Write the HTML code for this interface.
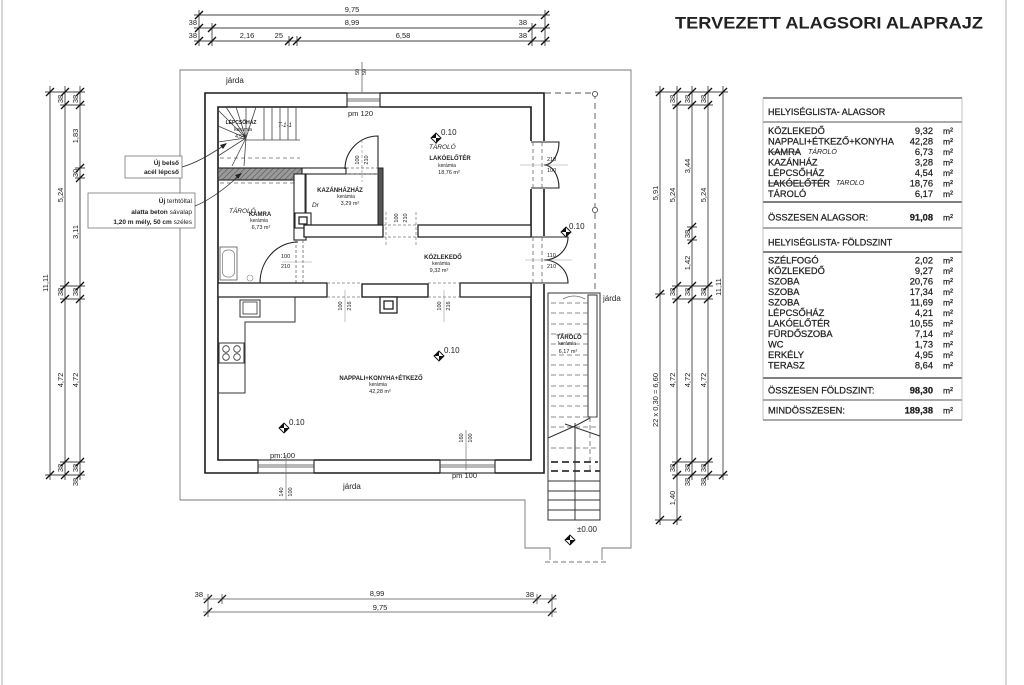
<!DOCTYPE html>
<html><head><meta charset="utf-8"><style>
html,body{margin:0;padding:0;background:#fff;}
svg{display:block}
text{font-family:"Liberation Sans",Arial,sans-serif;fill:#222}
.tb text{stroke:#222;stroke-width:0.25}
</style></head><body>
<svg width="1024" height="685" viewBox="0 0 1024 685" xmlns="http://www.w3.org/2000/svg">
<defs>
<pattern id="hatch" width="4" height="4" patternUnits="userSpaceOnUse" patternTransform="rotate(45)">
<rect width="4" height="4" fill="#9a9a9a"/>
<line x1="0" y1="0" x2="0" y2="4" stroke="#555" stroke-width="1.2"/>
</pattern>
</defs>
<rect width="1024" height="685" fill="#fff"/>
<line x1="2" y1="0" x2="2" y2="685" stroke="#c8c8c8" stroke-width="1.5"/>
<line x1="1006" y1="0" x2="1006" y2="685" stroke="#bdbdbd" stroke-width="1.2"/>

<text x="675" y="28.5" font-size="17" font-weight="bold" textLength="308" lengthAdjust="spacingAndGlyphs" fill="#111">TERVEZETT ALAGSORI ALAPRAJZ</text>

<!-- TOP DIMENSIONS -->
<g stroke="#444" stroke-width="0.9" fill="none">
<path d="M194 15 H550 M194 28 H550 M194 41 H550"/>
<path d="M199 10 V46 M212 23 V46 M289 36 V46 M297 36 V46 M532 23 V46 M545 10 V46"/>
</g>
<g stroke="#111" stroke-width="1.4" fill="none">
<path d="M195 19 L203 11 M541 19 L549 11
M195 32 L203 24 M208 32 L216 24 M528 32 L536 24 M541 32 L549 24
M195 45 L203 37 M208 45 L216 37 M285 45 L293 37 M293 45 L301 37 M528 45 L536 37 M541 45 L549 37"/>
</g>
<g font-size="7.5" fill="#222">
<text x="352" y="12" text-anchor="middle">9,75</text>
<text x="352" y="25" text-anchor="middle">8,99</text>
<text x="197" y="25" text-anchor="end">38</text>
<text x="527" y="25" text-anchor="end">38</text>
<text x="197" y="38" text-anchor="end">38</text>
<text x="247" y="38" text-anchor="middle">2,16</text>
<text x="283" y="38" text-anchor="end">25</text>
<text x="403" y="38" text-anchor="middle">6,58</text>
<text x="527" y="38" text-anchor="end">38</text>
</g>

<!-- BOTTOM DIMENSIONS -->
<g stroke="#555" stroke-width="0.8" fill="none">
<path d="M203 599 H557 M203 612 H557 M208 594 V617 M222 594 V604 M537 594 V604 M552 594 V617"/>
</g>
<g stroke="#222" stroke-width="1.3" fill="none">
<path d="M204 603 L212 595 M218 603 L226 595 M533 603 L541 595 M548 603 L556 595 M204 616 L212 608 M548 616 L556 608"/>
</g>
<g font-size="7.5" fill="#333">
<text x="203" y="597" text-anchor="end">38</text>
<text x="377" y="596" text-anchor="middle">8,99</text>
<text x="534" y="597" text-anchor="end">38</text>
<text x="380" y="610" text-anchor="middle">9,75</text>
</g>

<!-- LEFT DIMENSIONS -->
<g stroke="#444" stroke-width="0.9" fill="none">
<path d="M50 86 V480 M65 86 V480 M80 86 V480"/>
<path d="M45 92 H85 M60 105 H85 M75 168 H85 M75 178 H85 M60 286 H85 M60 299 H85 M60 462 H85 M45 475 H85"/>
</g>
<g stroke="#111" stroke-width="1.3" fill="none">
<path d="M46 96 L54 88 M46 479 L54 471
M61 96 L69 88 M61 109 L69 101 M61 290 L69 282 M61 303 L69 295 M61 466 L69 458 M61 479 L69 471
M76 96 L84 88 M76 109 L84 101 M76 172 L84 164 M76 182 L84 174 M76 290 L84 282 M76 303 L84 295 M76 466 L84 458 M76 479 L84 471"/>
</g>
<g font-size="7.5" fill="#222" text-anchor="middle">
<text transform="translate(48,283) rotate(-90)">11,11</text>
<text transform="translate(63,99) rotate(-90)">38</text>
<text transform="translate(63,195) rotate(-90)">5,24</text>
<text transform="translate(63,292) rotate(-90)">38</text>
<text transform="translate(63,380) rotate(-90)">4,72</text>
<text transform="translate(63,468) rotate(-90)">38</text>
<text transform="translate(78,99) rotate(-90)">38</text>
<text transform="translate(78,136) rotate(-90)">1,83</text>
<text transform="translate(78,173) rotate(-90)">30</text>
<text transform="translate(78,232) rotate(-90)">3,11</text>
<text transform="translate(78,292) rotate(-90)">38</text>
<text transform="translate(78,380) rotate(-90)">4,72</text>
<text transform="translate(78,468) rotate(-90)">38</text>
<text transform="translate(78,482) rotate(-90)">38</text>
</g>

<!-- RIGHT DIMENSIONS -->
<g stroke="#444" stroke-width="0.9" fill="none">
<path d="M660 86 V525 M677 86 V525 M692 86 V480 M708 86 V480 M723 86 V480"/>
<path d="M655 92 H728 M672 105 H713 M655 294 H665 M672 286 H713 M672 299 H713 M687 227 H697 M687 240 H697 M672 462 H713 M672 475 H728 M655 520 H682"/>
</g>
<g stroke="#111" stroke-width="1.3" fill="none">
<path d="M656 96 L664 88 M656 298 L664 290 M656 524 L664 516
M673 96 L681 88 M673 109 L681 101 M673 290 L681 282 M673 303 L681 295 M673 466 L681 458 M673 479 L681 471 M673 524 L681 516
M688 96 L696 88 M688 109 L696 101 M688 231 L696 223 M688 244 L696 236 M688 290 L696 282 M688 303 L696 295 M688 466 L696 458 M688 479 L696 471
M704 96 L712 88 M704 109 L712 101 M704 290 L712 282 M704 303 L712 295 M704 466 L712 458 M704 479 L712 471
M719 96 L727 88 M719 479 L727 471"/>
</g>
<g font-size="7.5" fill="#222" text-anchor="middle">
<text transform="translate(658,193) rotate(-90)">5,91</text>
<text transform="translate(658,400) rotate(-90)">22 x 0,30 = 6,60</text>
<text transform="translate(675,99) rotate(-90)">38</text>
<text transform="translate(675,195) rotate(-90)">5,24</text>
<text transform="translate(675,292) rotate(-90)">38</text>
<text transform="translate(675,380) rotate(-90)">4,72</text>
<text transform="translate(675,468) rotate(-90)">38</text>
<text transform="translate(675,498) rotate(-90)">1,40</text>
<text transform="translate(690,99) rotate(-90)">38</text>
<text transform="translate(690,166) rotate(-90)">3,44</text>
<text transform="translate(690,234) rotate(-90)">38</text>
<text transform="translate(690,263) rotate(-90)">1,42</text>
<text transform="translate(690,292) rotate(-90)">38</text>
<text transform="translate(690,380) rotate(-90)">4,72</text>
<text transform="translate(690,468) rotate(-90)">38</text>
<text transform="translate(690,482) rotate(-90)">38</text>
<text transform="translate(706,99) rotate(-90)">38</text>
<text transform="translate(706,195) rotate(-90)">5,24</text>
<text transform="translate(706,292) rotate(-90)">38</text>
<text transform="translate(706,380) rotate(-90)">4,72</text>
<text transform="translate(706,468) rotate(-90)">38</text>
<text transform="translate(706,482) rotate(-90)">38</text>
<text transform="translate(721,287) rotate(-90)">11,11</text>
</g>

<!-- SITE BOUNDARY -->
<g stroke="#777" stroke-width="0.9" fill="none">
<path d="M180 500 V70 H631 V548 H602 V560 M550 560 V548 H525 V500 H180"/>
<path d="M545 562 H606" stroke-dasharray="5 3"/>
<path d="M362 62 V93"/>
</g>
<g font-size="5.5" fill="#444">
<text transform="translate(359,75) rotate(-90)">50</text>
<text transform="translate(366,75) rotate(-90)">50</text>
</g>
<g font-size="8" fill="#222">
<text x="226" y="83">járda</text>
<text x="603" y="301">járda</text>
<text x="343" y="489">járda</text>
</g>

<!-- dashed line right of building -->
<g stroke="#555" stroke-width="0.9" fill="none">
<path d="M545 93 H595 M595 93 V293" stroke-dasharray="6 4"/>
<circle cx="595" cy="94" r="2.6" fill="#fff"/>
<circle cx="595" cy="210" r="2.6" fill="#fff"/>
</g>

<!-- EXTERIOR WALLS -->
<path d="M205 93 H544 V473 H205 Z M218 107 V460 H531 V107 Z" fill="#fff" fill-rule="evenodd" stroke="#1a1a1a" stroke-width="1.6"/>

<!-- top window -->
<rect x="347" y="92" width="33" height="16" fill="#fff"/>
<rect x="347" y="93" width="33" height="14" fill="none" stroke="#222" stroke-width="1.1"/>
<path d="M347 99 H380 M347 101 H380" stroke="#444" stroke-width="0.7"/>
<text x="348" y="116" font-size="7.5" fill="#333">pm 120</text>

<!-- bottom windows -->
<rect x="258" y="459" width="56" height="15" fill="#fff"/>
<rect x="258" y="460" width="56" height="13" fill="none" stroke="#222" stroke-width="1.1"/>
<path d="M258 465 H314 M258 467 H314" stroke="#444" stroke-width="0.7"/>
<rect x="440" y="459" width="55" height="15" fill="#fff"/>
<rect x="440" y="460" width="55" height="13" fill="none" stroke="#222" stroke-width="1.1"/>
<path d="M440 465 H495 M440 467 H495" stroke="#444" stroke-width="0.7"/>
<text x="270" y="458" font-size="7.5" fill="#555">pm:100</text>
<text x="452" y="478" font-size="7.5" fill="#555">pm 100</text>
<path d="M286 455 V500 M466 430 V470" stroke="#777" stroke-width="0.7"/>
<g font-size="5.5" fill="#333" text-anchor="middle">
<text transform="translate(283,492) rotate(-90)">140</text>
<text transform="translate(292,492) rotate(-90)">100</text>
<text transform="translate(463,438) rotate(-90)">160</text>
<text transform="translate(472,438) rotate(-90)">100</text>
</g>

<!-- east doors -->
<rect x="530" y="141" width="15" height="48" fill="#fff"/>
<rect x="530" y="236" width="15" height="48" fill="#fff"/>
<g stroke="#222" stroke-width="1.1" fill="none">
<path d="M531 142 H544 M531 188 H544 M531 237 H544 M531 283 H544"/>
<path d="M544 142 H559 A15 23 0 0 1 544 165 M544 188 H559 A15 23 0 0 0 544 165"/>
<path d="M544 237 H568 A24 23 0 0 1 544 260 M544 283 H568 A24 23 0 0 0 544 260"/>
</g>
<g stroke="#666" stroke-width="0.8" fill="none" stroke-dasharray="4 3">
<path d="M533 142 V188 M542 142 V188 M533 237 V283 M542 237 V283"/>
</g>
<path d="M520 165 H568 M525 260 H572" stroke="#999" stroke-width="0.6"/>
<g font-size="5.5" fill="#333">
<text x="547" y="161">210</text><text x="547" y="172">100</text>
<text x="547" y="257">110</text><text x="547" y="268">210</text>
</g>

<!-- INTERIOR WALLS -->
<rect x="218" y="168" width="84" height="12" fill="url(#hatch)" stroke="#222" stroke-width="1.1"/>
<path d="M220 158 H300 M220 183 H294" stroke="#666" stroke-width="0.8" stroke-dasharray="4 3"/>
<rect x="302" y="168" width="44" height="6" fill="#fff" stroke="#222" stroke-width="1.1"/>
<rect x="378" y="168" width="5" height="58" fill="#555" stroke="#222" stroke-width="1"/>
<rect x="294" y="174" width="12" height="66" fill="#fff" stroke="#222" stroke-width="1.1"/>
<rect x="305" y="174" width="73" height="51" fill="none" stroke="#222" stroke-width="0.9"/>
<!-- kazanhaz door -->
<path d="M345 169 A33 33 0 0 1 378 136 V169" fill="none" stroke="#222" stroke-width="1.1"/>
<path d="M362 140 V182" stroke="#888" stroke-width="0.6" stroke-dasharray="3 2"/>
<path d="M346 168 H378 M346 174 H378" stroke="#666" stroke-width="0.7" stroke-dasharray="3 2"/>
<g font-size="5.5" fill="#333" text-anchor="middle">
<text transform="translate(359,160) rotate(-90)">100</text>
<text transform="translate(368,160) rotate(-90)">210</text>
</g>
<!-- chimney kamra -->
<rect x="295" y="213" width="16" height="15" fill="#fff" stroke="#222" stroke-width="1.1"/>
<rect x="299" y="217" width="8" height="7" fill="none" stroke="#222" stroke-width="1.3"/>

<!-- kozlekedo top wall -->
<rect x="304" y="225" width="79" height="12" fill="#fff" stroke="#222" stroke-width="1.3"/>
<rect x="418" y="225" width="113" height="12" fill="#fff" stroke="#222" stroke-width="1.3"/>
<path d="M383 225 H418 M383 237 H418 M386 212 V246 M416 212 V246" stroke="#777" stroke-width="0.7" stroke-dasharray="3 2"/>
<g font-size="5.5" fill="#333" text-anchor="middle">
<text transform="translate(398,218) rotate(-90)">100</text>
<text transform="translate(407,218) rotate(-90)">210</text>
</g>

<!-- kamra door -->
<path d="M296 240 V283 M303 240 V283" stroke="#666" stroke-width="0.8" stroke-dasharray="3 2"/>
<path d="M260 283 A38 41 0 0 1 298 242" fill="none" stroke="#222" stroke-width="1.1"/>
<path d="M282 262 H312" stroke="#999" stroke-width="0.6"/>
<g font-size="5.5" fill="#333"><text x="281" y="258">100</text><text x="281" y="268">210</text></g>

<!-- kozlekedo bottom wall -->
<rect x="218" y="283" width="109" height="14" fill="#fff" stroke="#222" stroke-width="1.3"/>
<rect x="362" y="284" width="66" height="13" fill="#fff" stroke="#222" stroke-width="1.4"/>
<rect x="460" y="283" width="71" height="14" fill="#fff" stroke="#222" stroke-width="1.3"/>
<path d="M327 283 H362 M327 297 H362 M428 283 H460 M428 297 H460" stroke="#777" stroke-width="0.7" stroke-dasharray="3 2"/>
<path d="M345 290 V322 M444 290 V322" stroke="#999" stroke-width="0.6"/>
<g font-size="5.5" fill="#333" text-anchor="middle">
<text transform="translate(342,306) rotate(-90)">100</text>
<text transform="translate(351,306) rotate(-90)">216</text>
<text transform="translate(441,306) rotate(-90)">100</text>
<text transform="translate(450,306) rotate(-90)">216</text>
</g>
<rect x="380" y="297" width="17" height="16" fill="#fff" stroke="#222" stroke-width="1.3"/>
<rect x="384" y="301" width="9" height="8" fill="none" stroke="#222" stroke-width="1.3"/>

<!-- kitchen -->
<path d="M218 297 H295 V322 H245 V393 H218" fill="none" stroke="#333" stroke-width="1"/>
<rect x="240" y="300" width="20" height="17" fill="#fff" stroke="#333" stroke-width="1"/>
<rect x="243" y="302" width="14" height="12" fill="none" stroke="#333" stroke-width="0.8"/>
<rect x="219" y="343" width="25" height="20" fill="#fff" stroke="#333" stroke-width="1"/>
<g fill="none" stroke="#333" stroke-width="0.8">
<circle cx="226" cy="349" r="3.3"/><circle cx="237" cy="349" r="3.3"/>
<circle cx="226" cy="357" r="3.3"/><circle cx="237" cy="357" r="3.3"/>
</g>

<!-- kamra bathtub -->
<rect x="220" y="247" width="17" height="33" fill="#fff" stroke="#555" stroke-width="0.8"/>
<rect x="222.5" y="250" width="12" height="27" rx="5" fill="none" stroke="#777" stroke-width="0.7"/>
<circle cx="250" cy="278" r="3" fill="none" stroke="#888" stroke-width="0.6"/>

<!-- lepcsohaz stairs -->
<g stroke="#444" stroke-width="0.8" fill="none">
<path d="M246 138 L218 110 M246 138 L226 107 M246 138 L236 107 M246 138 L246 107 M246 138 L256 107
M246 138 L218 126 M246 138 L218 142 M246 138 L218 156 M246 138 L232 166 M246 138 L244 166"/>
<path d="M264 107 V140 M272 107 V140 M280 107 V140 M288 107 V140 M296 107 V140"/>
<path d="M246 140 H300"/>
</g>
<g font-size="5" fill="#333" text-anchor="middle">
<text x="241" y="124" font-weight="bold">LÉPCSŐHÁZ</text>
<text x="243" y="131">kerámia</text>
<text x="240" y="138">4,54</text>
</g>
<text x="278" y="127" font-size="6" fill="#777" font-style="italic">T-1-1</text>

<!-- annotations -->
<rect x="125" y="156" width="57" height="22" fill="#fff" stroke="#777" stroke-width="0.8"/>
<g font-size="6.5" font-weight="bold" text-anchor="end">
<text x="179" y="165">Új belső</text>
<text x="179" y="174">acél lépcső</text>
</g>
<rect x="88" y="193" width="107" height="35" fill="#fff" stroke="#777" stroke-width="0.8"/>
<g font-size="6.5" text-anchor="end">
<text x="192" y="203"><tspan font-weight="bold">Új</tspan> terhtöltal</text>
<text x="192" y="214"><tspan font-weight="bold">alatta beton</tspan> sávalap</text>
<text x="192" y="224"><tspan font-weight="bold">1,20 m mély, 50 cm</tspan> széles</text>
</g>
<g stroke="#333" stroke-width="0.8" fill="none">
<path d="M182 167 Q200 162 226 144"/>
<path d="M195 206 Q215 198 241 174"/>
</g>
<path d="M227 143 L220 145 L223 149 Z M242 173 L235 175 L238 179 Z" fill="#222"/>

<!-- right stair (TÁROLÓ) -->
<g stroke="#333" stroke-width="1" fill="none">
<rect x="548" y="293" width="52" height="227"/>
<rect x="588" y="295" width="9" height="122"/>
<path d="M575 423 V520"/>
<path d="M548 481 H600 M548 491 H600 M548 500 H600 M548 510 H600"/>
<path d="M548 438 L575 426 L590 418 M565 424 L600 436"/>
</g>
<g stroke="#666" stroke-width="0.8" fill="none" stroke-dasharray="5 3">
<path d="M551 303 H588 M551 313 H588 M551 324 H588 M551 334 H588 M551 344 H588 M551 355 H588 M551 365 H588 M551 375 H588 M551 386 H588 M551 396 H588 M551 406 H588 M551 417 H598 M551 427 H598 M551 448 H598 M590 417 V472"/>
</g>
<path d="M551 462 H598 M551 471 H600" stroke="#333" stroke-width="1.8" stroke-dasharray="7 4" fill="none"/>
<path d="M563 299 Q574 293 585 299" stroke="#666" stroke-width="0.8" fill="none"/>

<!-- ROOM LABELS -->
<g text-anchor="middle" fill="#222">
<text x="450" y="160" font-size="6" font-weight="bold">LAKÓELŐTÉR</text>
<text x="447" y="167" font-size="5">kerámia</text>
<text x="449" y="174" font-size="5.5">18,76 m²</text>
<text x="340" y="192" font-size="6" font-weight="bold">KAZÁNHÁZHÁZ</text>
<text x="346" y="198" font-size="5">kerámia</text>
<text x="350" y="205" font-size="5.5">3,29 m²</text>
<text x="260" y="216" font-size="6" font-weight="bold">KAMRA</text>
<text x="259" y="222" font-size="5">kerámia</text>
<text x="261" y="229" font-size="5.5">6,73 m²</text>
<text x="443" y="259" font-size="6" font-weight="bold">KÖZLEKEDŐ</text>
<text x="441" y="265" font-size="5">kerámia</text>
<text x="439" y="272" font-size="5.5">9,32 m²</text>
<text x="381" y="380" font-size="6" font-weight="bold">NAPPALI+KONYHA+ÉTKEZŐ</text>
<text x="378" y="386" font-size="5">kerámia</text>
<text x="380" y="393" font-size="5.5">42,28 m²</text>
<text x="569" y="339" font-size="6" font-weight="bold">TÁROLÓ</text>
<text x="567" y="345" font-size="5">kerámia</text>
<text x="568" y="353" font-size="5.5">6,17 m²</text>
</g>
<g fill="#888" font-style="italic" font-size="6.5">
<text x="429" y="149">TÁROLÓ</text>
<text x="312" y="207">Dr</text>
<text x="229" y="213">TÁROLÓ</text>
</g>

<!-- level markers -->
<g>
<g transform="translate(436,138) rotate(45)"><rect x="-3.5" y="-3.5" width="7" height="7" fill="#fff" stroke="#111"/><path d="M-3.5 -3.5 L3.5 3.5 L3.5 -3.5 L-3.5 3.5 Z" fill="#111"/></g>
<text x="441" y="135" font-size="8">0.10</text>
<g transform="translate(439,356) rotate(45)"><rect x="-3.5" y="-3.5" width="7" height="7" fill="#fff" stroke="#111"/><path d="M-3.5 -3.5 L3.5 3.5 L3.5 -3.5 L-3.5 3.5 Z" fill="#111"/></g>
<text x="444" y="353" font-size="8">0.10</text>
<g transform="translate(284,428) rotate(45)"><rect x="-3.5" y="-3.5" width="7" height="7" fill="#fff" stroke="#111"/><path d="M-3.5 -3.5 L3.5 3.5 L3.5 -3.5 L-3.5 3.5 Z" fill="#111"/></g>
<text x="289" y="425" font-size="8">0.10</text>
<g transform="translate(566,232) rotate(45)"><rect x="-3.5" y="-3.5" width="7" height="7" fill="#fff" stroke="#111"/><path d="M-3.5 -3.5 L3.5 3.5 L3.5 -3.5 L-3.5 3.5 Z" fill="#111"/></g>
<text x="569" y="229" font-size="8">0.10</text>
<g transform="translate(570,540) rotate(45)"><rect x="-3.5" y="-3.5" width="7" height="7" fill="#fff" stroke="#111"/><path d="M-3.5 -3.5 L3.5 3.5 L3.5 -3.5 L-3.5 3.5 Z" fill="#111"/></g>
<text x="577" y="532" font-size="8">±0.00</text>
</g>

<!-- TABLE -->
<g stroke="#555" fill="none">
<path d="M763 98 H962" stroke-width="1.2"/>
<path d="M763 122 H962" stroke-width="1"/>
<path d="M763 202 H962" stroke-width="1.6"/>
<path d="M763 228 H962" stroke-width="1"/>
<path d="M763 252 H962" stroke-width="1.6"/>
<path d="M763 378 H962" stroke-width="1.6"/>
<path d="M763 400 H962" stroke-width="1"/>
<path d="M763 420 H962" stroke-width="1"/>
<path d="M763 98 V420 M962 98 V420" stroke="#aaa" stroke-width="0.7"/>
</g>
<g class="tb" font-size="9.3" fill="#222">
<text x="768" y="115" font-size="9">HELYISÉGLISTA- ALAGSOR</text>
<text x="768" y="134">KÖZLEKEDŐ</text>
<text x="768" y="144.5">NAPPALI+ÉTKEZŐ+KONYHA</text>
<text x="768" y="155">KAMRA</text>
<text x="768" y="165.5">KAZÁNHÁZ</text>
<text x="768" y="176">LÉPCSŐHÁZ</text>
<text x="768" y="186.5">LAKÓELŐTÉR</text>
<text x="768" y="197">TÁROLÓ</text>
<text x="768" y="220.5">ÖSSZESEN ALAGSOR:</text>
<text x="768" y="245.5" font-size="9">HELYISÉGLISTA- FÖLDSZINT</text>
<text x="768" y="263.5">SZÉLFOGÓ</text>
<text x="768" y="274">KÖZLEKEDŐ</text>
<text x="768" y="284.5">SZOBA</text>
<text x="768" y="295">SZOBA</text>
<text x="768" y="305.5">SZOBA</text>
<text x="768" y="316">LÉPCSŐHÁZ</text>
<text x="768" y="326.5">LAKÓELŐTÉR</text>
<text x="768" y="337">FÜRDŐSZOBA</text>
<text x="768" y="347.5">WC</text>
<text x="768" y="358">ERKÉLY</text>
<text x="768" y="368.5">TERASZ</text>
<text x="768" y="393.5">ÖSSZESEN FÖLDSZINT:</text>
<text x="768" y="413.5">MINDÖSSZESEN:</text>
</g>
<g class="tb" font-size="9.3" fill="#222" text-anchor="end">
<text x="933" y="134">9,32</text>
<text x="933" y="144.5">42,28</text>
<text x="933" y="155">6,73</text>
<text x="933" y="165.5">3,28</text>
<text x="933" y="176">4,54</text>
<text x="933" y="186.5">18,76</text>
<text x="933" y="197">6,17</text>
<text x="933" y="220.5" font-weight="bold">91,08</text>
<text x="933" y="263.5">2,02</text>
<text x="933" y="274">9,27</text>
<text x="933" y="284.5">20,76</text>
<text x="933" y="295">17,34</text>
<text x="933" y="305.5">11,69</text>
<text x="933" y="316">4,21</text>
<text x="933" y="326.5">10,55</text>
<text x="933" y="337">7,14</text>
<text x="933" y="347.5">1,73</text>
<text x="933" y="358">4,95</text>
<text x="933" y="368.5">8,64</text>
<text x="933" y="393.5" font-weight="bold">98,30</text>
<text x="933" y="413.5" font-weight="bold">189,38</text>
</g>
<g class="tb" font-size="8.5" fill="#222">
<text x="943" y="134">m²</text><text x="943" y="144.5">m²</text><text x="943" y="155">m²</text><text x="943" y="165.5">m²</text>
<text x="943" y="176">m²</text><text x="943" y="186.5">m²</text><text x="943" y="197">m²</text><text x="943" y="220.5">m²</text>
<text x="943" y="263.5">m²</text><text x="943" y="274">m²</text><text x="943" y="284.5">m²</text><text x="943" y="295">m²</text>
<text x="943" y="305.5">m²</text><text x="943" y="316">m²</text><text x="943" y="326.5">m²</text><text x="943" y="337">m²</text>
<text x="943" y="347.5">m²</text><text x="943" y="358">m²</text><text x="943" y="368.5">m²</text><text x="943" y="393.5">m²</text>
<text x="943" y="413.5">m²</text>
</g>
<path d="M768 152 H800 M768 183 H826" stroke="#444" stroke-width="0.9"/>
<g fill="#999" font-style="italic" font-size="7">
<text x="808" y="154">TÁROLÓ</text>
<text x="836" y="185">TAROLO</text>
</g>
</svg>
</body></html>
